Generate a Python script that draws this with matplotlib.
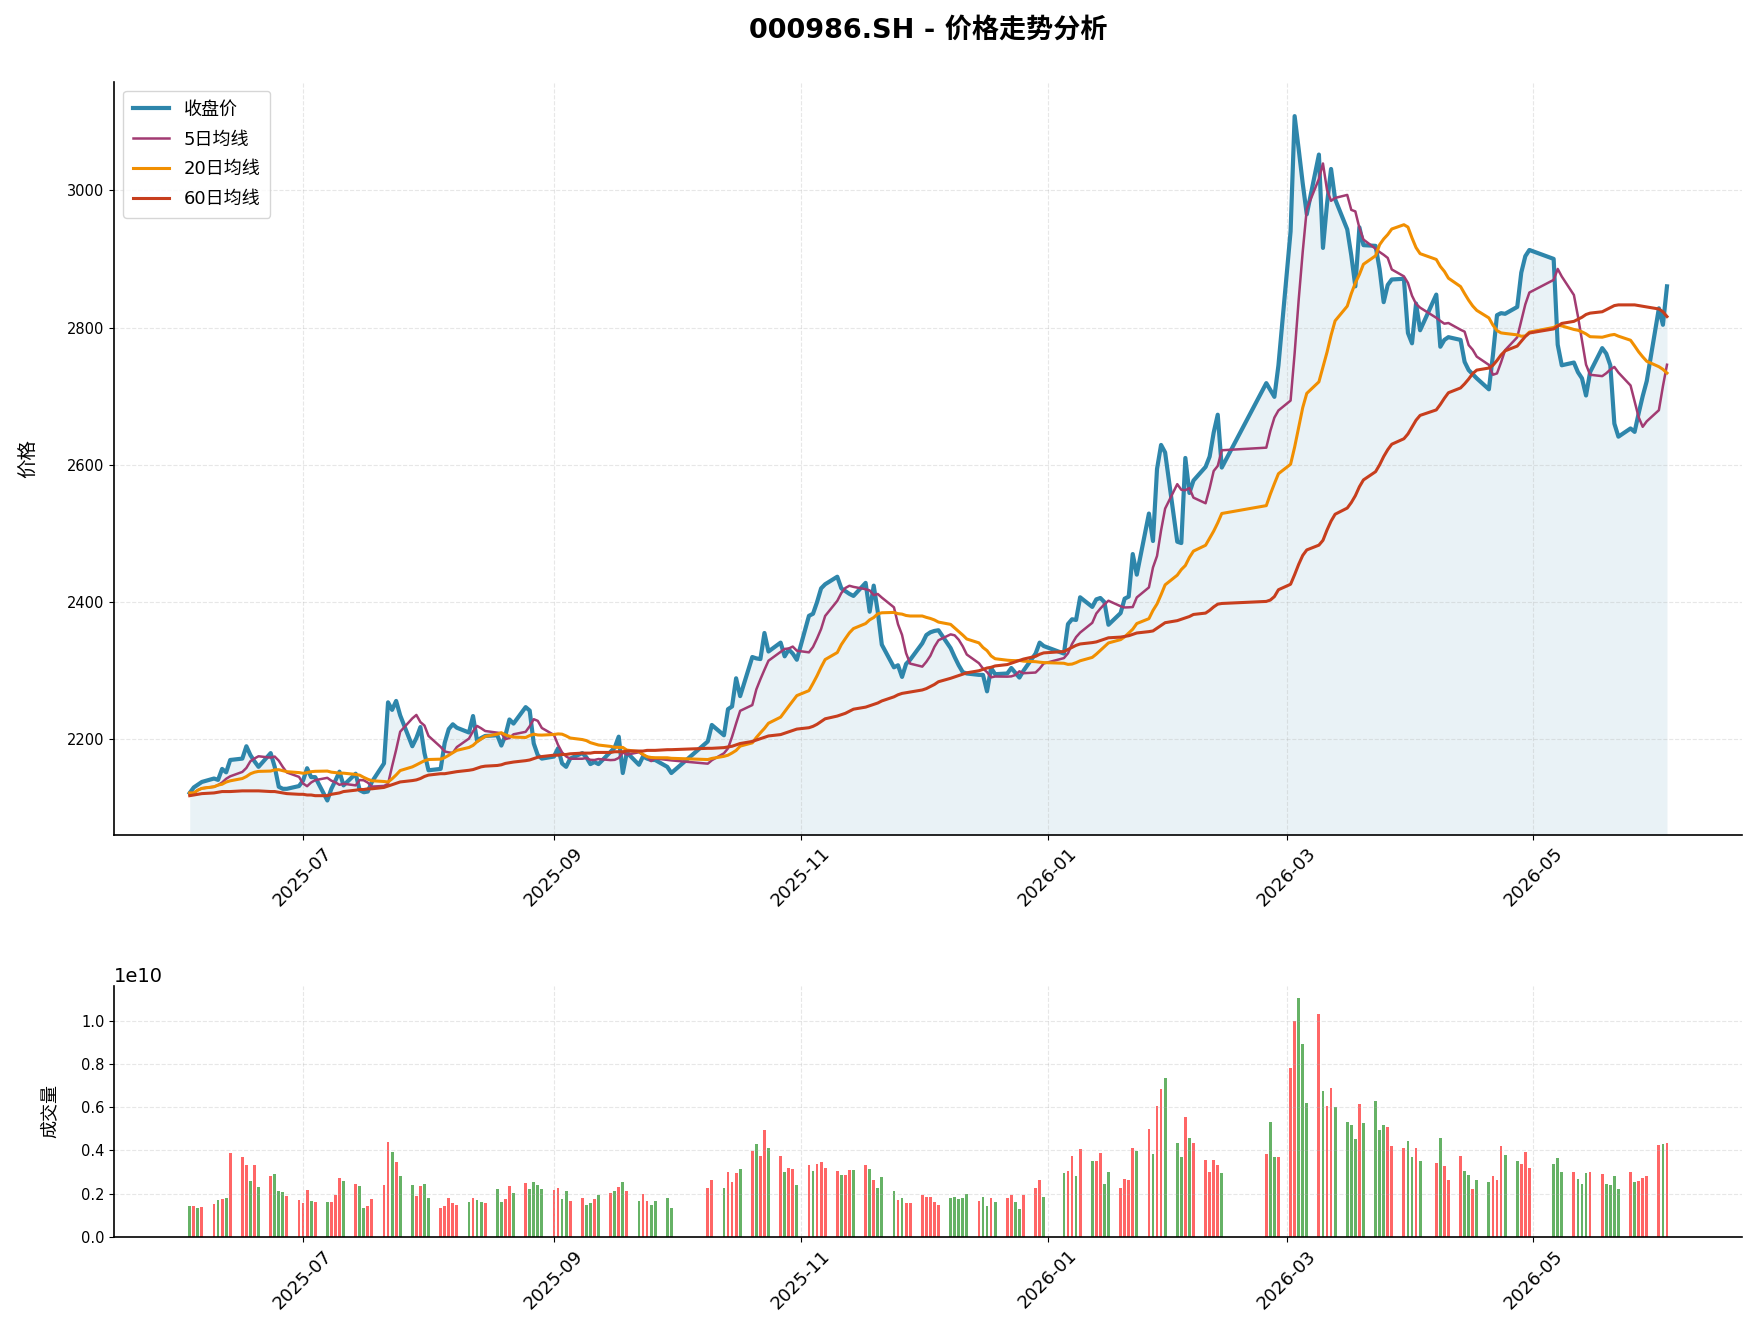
import numpy as np
import pandas as pd
import matplotlib
matplotlib.use("Agg")
import matplotlib.pyplot as plt
import matplotlib.dates as mdates

plt.rcParams['font.family'] = ['DejaVu Sans', 'Noto Sans CJK SC']
plt.rcParams['axes.unicode_minus'] = False

# ---------------- data ----------------
ticker = "000986.SH"
title_text = "价格走势分析"
legend_labels = ["收盘价", "5日均线", "20日均线", "60日均线"]
price_label = "价格"
volume_label = "成交量"

start_date = "2025-06-03"
end_date = "2026-06-03"
holidays = ["2025-10-01", "2025-10-02", "2025-10-03", "2025-10-06", "2025-10-07",
            "2025-10-08", "2026-01-01", "2026-01-02", "2026-02-16", "2026-02-17",
            "2026-02-18", "2026-02-19", "2026-02-20", "2026-02-23", "2026-04-06",
            "2026-05-01", "2026-05-04", "2026-05-05"]

close = [
    2122, 2130, 2134, 2138,
    2143, 2141, 2157, 2152, 2170,
    2172, 2190, 2177, 2168, 2160,
    2180, 2160, 2131, 2128, 2128,
    2132, 2140, 2158, 2145, 2145,
    2111, 2128, 2140, 2153, 2133,
    2150, 2126, 2123, 2124, 2138,
    2165, 2254, 2243, 2256, 2235,
    2190, 2202, 2218, 2180, 2155,
    2157, 2195, 2215, 2222, 2217,
    2210, 2234, 2198, 2202, 2205,
    2206, 2191, 2206, 2229, 2223,
    2247, 2242, 2194, 2177, 2172,
    2175, 2187, 2165, 2160, 2172,
    2180, 2174, 2164, 2167, 2164,
    2182, 2188, 2204, 2151, 2181,
    2163, 2175, 2172, 2170, 2170,
    2160, 2151,
    2197, 2221,
    2206, 2244, 2248, 2289, 2263,
    2320, 2318, 2317, 2355, 2328,
    2341, 2321, 2331, 2325, 2316,
    2380, 2383, 2400, 2420, 2426,
    2437, 2420, 2416, 2412, 2409,
    2428, 2386, 2424, 2386, 2338,
    2305, 2308, 2291, 2310, 2316,
    2340, 2352, 2356, 2358, 2359,
    2333, 2320, 2308, 2298, 2296,
    2294, 2294, 2270, 2304, 2295,
    2296, 2304, 2297, 2290, 2300,
    2325, 2341, 2336,
    2325, 2368, 2375, 2374, 2407,
    2393, 2404, 2406, 2400, 2367,
    2384, 2405, 2408, 2470, 2440,
    2529, 2489, 2594, 2629, 2618,
    2488, 2486, 2610, 2559, 2577,
    2597, 2612, 2647, 2673, 2596,
    2719, 2709, 2699, 2745,
    2940, 3108, 3060, 3010, 2965,
    3052, 2916, 2980, 3031, 2987,
    2943, 2905, 2860, 2946, 2920,
    2919, 2885, 2837, 2862, 2870,
    2871, 2792, 2777, 2835, 2796,
    2848, 2772, 2782, 2786,
    2782, 2750, 2738, 2732, 2726,
    2710, 2760, 2818, 2821, 2820,
    2830, 2880, 2904, 2913,
    2900, 2775, 2745,
    2749, 2735, 2726, 2701, 2735,
    2770, 2762, 2745, 2660, 2641,
    2653, 2648, 2675, 2700, 2722,
    2828, 2804, 2860,
]

ma60 = [
    2118, 2119, 2120, 2121,
    2122, 2123, 2124, 2124, 2124,
    2125, 2125, 2125, 2125, 2125,
    2124, 2124, 2123, 2122, 2121,
    2120, 2120, 2119, 2119, 2118,
    2118, 2120, 2121, 2122, 2124,
    2126, 2127, 2127, 2128, 2128,
    2130, 2132, 2134, 2136, 2138,
    2140, 2141, 2143, 2146, 2148,
    2150, 2150, 2151, 2152, 2153,
    2155, 2156, 2158, 2160, 2161,
    2162, 2163, 2165, 2166, 2167,
    2169, 2170, 2172, 2174, 2175,
    2177, 2177, 2178, 2178, 2179,
    2180, 2180, 2180, 2181, 2181,
    2181, 2182, 2182, 2182, 2183,
    2183, 2183, 2184, 2184, 2184,
    2185, 2185,
    2187, 2187,
    2188, 2189, 2190, 2192, 2194,
    2197, 2199, 2201, 2203, 2205,
    2207, 2209, 2211, 2213, 2215,
    2217, 2219, 2222, 2226, 2230,
    2234, 2236, 2238, 2241, 2244,
    2247, 2249, 2251, 2253, 2256,
    2262, 2265, 2267, 2268, 2269,
    2272, 2274, 2277, 2280, 2284,
    2289, 2291, 2293, 2295, 2297,
    2300, 2302, 2304, 2305, 2307,
    2309, 2311, 2313, 2315, 2317,
    2321, 2324, 2326,
    2328, 2331, 2334, 2337, 2339,
    2341, 2342, 2344, 2346, 2348,
    2349, 2350, 2351, 2353, 2355,
    2357, 2358, 2362, 2366, 2370,
    2373, 2375, 2377, 2379, 2382,
    2384, 2388, 2393, 2397, 2398,
    2401, 2403, 2408, 2418,
    2426, 2440, 2455, 2468, 2476,
    2483, 2490, 2505, 2518, 2528,
    2537, 2545, 2555, 2568, 2578,
    2590, 2600, 2612, 2622, 2630,
    2638, 2645, 2655, 2665, 2672,
    2680, 2688, 2697, 2705,
    2712, 2718, 2725, 2733, 2738,
    2741, 2745, 2752, 2760, 2766,
    2773, 2780, 2787, 2792,
    2798, 2802, 2806,
    2809, 2812, 2815, 2819, 2821,
    2823, 2826, 2829, 2832, 2833,
    2833, 2833, 2832, 2831, 2830,
    2827, 2823, 2816,
]

# volume in units of 1e9
volume = [
    1.42, 1.42, 1.33, 1.37,
    1.51, 1.70, 1.74, 1.79, 3.87,
    3.69, 3.32, 2.58, 3.32, 2.30,
    2.81, 2.90, 2.11, 2.07, 1.88,
    1.70, 1.56, 2.16, 1.65, 1.60,
    1.60, 1.60, 1.93, 2.72, 2.58,
    2.44, 2.35, 1.33, 1.42, 1.74,
    2.39, 4.38, 3.92, 3.46, 2.81,
    2.39, 1.88, 2.35, 2.44, 1.79,
    1.33, 1.42, 1.79, 1.56, 1.47,
    1.60, 1.79, 1.70, 1.60, 1.56,
    2.21, 1.60, 1.74, 2.35, 2.02,
    2.48, 2.21, 2.53, 2.39, 2.21,
    2.16, 2.25, 1.74, 2.11, 1.65,
    1.79, 1.47, 1.56, 1.74, 1.93,
    2.02, 2.11, 2.30, 2.53, 2.11,
    1.65, 1.98, 1.65, 1.47, 1.65,
    1.79, 1.33,
    2.25, 2.62,
    2.25, 2.99, 2.53, 2.95, 3.13,
    3.97, 4.29, 3.73, 4.94, 4.10,
    3.73, 2.99, 3.18, 3.13, 2.39,
    3.32, 3.04, 3.36, 3.46, 3.18,
    3.04, 2.85, 2.85, 3.09, 3.09,
    3.32, 3.13, 2.62, 2.25, 2.76,
    2.11, 1.70, 1.79, 1.56, 1.56,
    1.93, 1.84, 1.84, 1.60, 1.47,
    1.79, 1.84, 1.74, 1.79, 1.98,
    1.65, 1.84, 1.42, 1.79, 1.60,
    1.79, 1.93, 1.60, 1.28, 1.93,
    2.25, 2.62, 1.84,
    2.95, 3.04, 3.73, 2.81, 4.06,
    3.50, 3.50, 3.87, 2.44, 2.99,
    2.25, 2.67, 2.62, 4.10, 3.97,
    4.98, 3.83, 6.05, 6.84, 7.35,
    4.34, 3.69, 5.54, 4.57, 4.34,
    3.55, 2.99, 3.55, 3.32, 2.95,
    3.83, 5.31, 3.69, 3.69,
    7.81, 9.98, 11.05, 8.92, 6.19,
    10.31, 6.74, 6.05, 6.88, 6.00,
    5.31, 5.17, 4.52, 6.14, 5.26,
    6.28, 4.94, 5.17, 5.08, 4.20,
    4.10, 4.43, 3.69, 4.10, 3.50,
    3.41, 4.57, 3.27, 2.62,
    3.73, 3.04, 2.85, 2.21, 2.62,
    2.53, 2.81, 2.62, 4.20, 3.78,
    3.50, 3.36, 3.92, 3.18,
    3.36, 3.64, 2.99,
    2.99, 2.67, 2.44, 2.95, 2.99,
    2.90, 2.44, 2.39, 2.81, 2.21,
    2.99, 2.53, 2.58, 2.72, 2.81,
    4.24, 4.29, 4.34,
]

# 'r' = up day, 'g' = down day
updown = (
    "grgr" "rgrgr" "rrgrg" "rgggr" "rrrgr"
    "grrrg" "rggrr" "rrgrg" "grrgg" "rrrrr"
    "grggr" "ggrrg" "rgggg" "rrggr" "rggrg"
    "rgrgr" "grrgg" "gg" "rr" "grrrg"
    "rgrrg" "rgrrg" "rgrrr" "rgrrg" "rgrgg"
    "grgrr" "rrrrr" "ggggg" "rggrg" "rrggr"
    "rrg" "grrgr" "grrgg" "rrrrg" "rgrrg"
    "ggrgr" "rrrrg" "rggr" "rrggg" "rgrrg"
    "gggrg" "gggrr" "rggrg" "rgrr" "rggrg"
    "grrrg" "grrr" "ggg" "rgggr" "rgggg"
    "rgrrr" "rgr"
)

# ---------------- derived ----------------
dates = pd.bdate_range(start_date, end_date)
dates = dates[~dates.isin(pd.to_datetime(holidays))]
df = pd.DataFrame({"close": close, "ma60": ma60, "vol": np.array(volume) * 1e9},
                  index=dates)
# moving averages of the previous N sessions
df["ma5"] = df["close"].rolling(5, min_periods=1).mean().shift(1)
df["ma20"] = df["close"].rolling(20, min_periods=1).mean().shift(1)
df.loc[df.index[0], ["ma5", "ma20"]] = df["close"].iloc[0]
bar_colors = ["red" if c == "r" else "green" for c in updown]

# ---------------- figure ----------------
W, H = 1757, 1342
fig = plt.figure(figsize=(W / 100, H / 100), dpi=100)
L, R = 114.3 / W, 1742.4 / W
ax1 = fig.add_axes([L, (H - 834.8) / H, R - L, (834.8 - 81.8) / H])
ax2 = fig.add_axes([L, (H - 1237) / H, R - L, (1237 - 986) / H])

ybot = 2061
ax1.plot(df.index, df["close"], color="#2E86AB", lw=3, label=legend_labels[0], zorder=4)
ax1.plot(df.index, df["ma5"], color="#A23B72", lw=1.8, label=legend_labels[1], zorder=5)
ax1.plot(df.index, df["ma20"], color="#F18F01", lw=2.2, label=legend_labels[2], zorder=5)
ax1.plot(df.index, df["ma60"], color="#C73E1D", lw=2.2, label=legend_labels[3], zorder=5)
ax1.fill_between(df.index, df["close"], ybot, color="#2E86AB", alpha=0.1, lw=0, zorder=1)
ax1.set_ylim(ybot, 3158)
ax1.set_ylabel(price_label, fontsize=14)
ax1.yaxis.set_label_coords(-0.047, 0.5)
leg = ax1.legend(loc="upper left", fontsize=13, labelspacing=0.65, borderpad=0.55,
                 framealpha=0.8)

ax2.bar(df.index, df["vol"], color=bar_colors, alpha=0.6, width=0.7)
ax2.set_ylabel(volume_label, fontsize=13)
ax2.yaxis.set_label_coords(-0.034, 0.5)
ax2.yaxis.get_offset_text().set_fontsize(14)

for ax in (ax1, ax2):
    ax.xaxis.set_major_locator(mdates.MonthLocator(bymonth=[1, 3, 5, 7, 9, 11]))
    ax.xaxis.set_major_formatter(mdates.DateFormatter("%Y-%m"))
    ax.grid(True, linestyle="--", alpha=0.3)
    ax.spines["top"].set_visible(False)
    ax.spines["right"].set_visible(False)
    for s in ("left", "bottom"):
        ax.spines[s].set_linewidth(1.2)
    ax.tick_params(axis="y", labelsize=10.5)
    ax.tick_params(axis="x", labelsize=13)
    plt.setp(ax.get_xticklabels(), rotation=45, ha="center")

ax1.set_xlim(ax2.get_xlim())

fig.text((L + R) / 2, 1 - 31 / H, f"{ticker} - {title_text}", ha="center", va="center",
         fontsize=19.5, fontweight="bold")

fig.savefig("out.png", dpi=100)
